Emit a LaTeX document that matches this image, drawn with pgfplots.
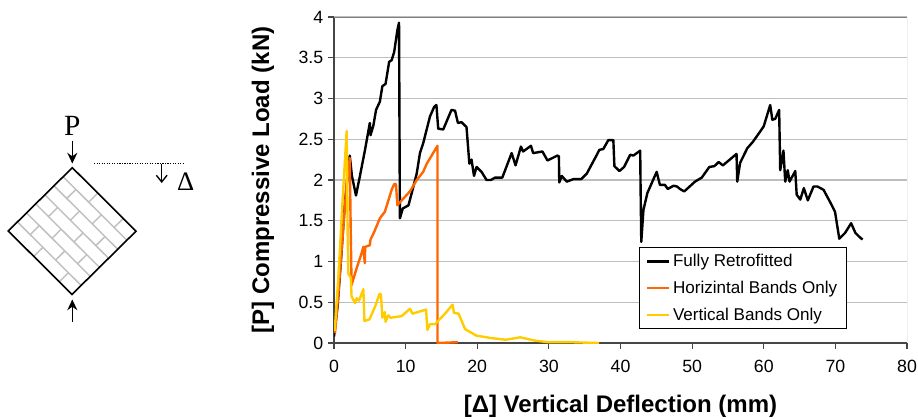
\documentclass[border=0pt]{standalone}
\usepackage{fontspec}
\setmainfont{Liberation Sans}
\newfontfamily\serifdiag{Liberation Serif}
\usepackage{pgfplots}
\pgfplotsset{compat=1.18}
\usetikzlibrary{arrows.meta}

\pgfplotstableread{
x y
0 0.08
0.5 0.45
1.0 1.05
1.5 1.7
2.2 2.3
2.5 2.05
3.07 1.81
3.6 2.04
4.33 2.37
5.0 2.7
5.1 2.55
5.5 2.67
5.87 2.86
6.4 2.96
6.75 3.15
7.2 3.18
7.7 3.45
8.05 3.47
8.4 3.57
8.85 3.84
9.08 3.93
9.2 1.53
9.6 1.65
10.4 1.69
10.85 1.84
11.55 2.08
12.0 2.33
12.45 2.45
13.4 2.78
14.0 2.9
14.3 2.92
14.55 2.63
15.25 2.62
16.4 2.86
16.9 2.85
17.3 2.7
17.8 2.71
18.5 2.65
18.9 2.2
19.2 2.25
19.55 2.05
19.9 2.16
20.6 2.10
21.3 2.0
21.9 2.0
22.5 2.03
23.5 2.03
24.8 2.33
25.35 2.18
26.1 2.41
26.4 2.35
27.5 2.42
27.8 2.33
29.1 2.35
29.8 2.24
31.2 2.3
31.4 2.29
31.45 1.97
31.8 2.05
32.5 1.98
33.4 2.01
34.5 2.01
35.3 2.08
36.7 2.31
37.05 2.37
37.6 2.38
38.3 2.49
39.0 2.49
39.15 2.17
39.85 2.11
40.5 2.16
41.35 2.31
41.8 2.3
42.75 2.36
42.8 1.94
42.9 1.24
43.2 1.63
43.75 1.84
45.05 2.1
45.5 1.94
46.2 1.94
46.6 1.89
47.4 1.93
47.9 1.92
48.3 1.89
48.9 1.86
50.4 1.98
51.35 2.03
52.4 2.16
53.1 2.17
53.7 2.22
54.3 2.18
56.2 2.32
56.3 1.98
56.7 2.21
57.7 2.39
58.5 2.47
59.7 2.62
60.0 2.66
60.9 2.92
61.2 2.74
61.6 2.75
62.15 2.86
62.3 2.12
62.75 2.36
63.0 1.98
63.35 2.12
63.6 1.98
64.4 2.11
64.6 1.82
65.1 1.76
65.6 1.9
66.15 1.75
66.95 1.92
67.5 1.92
68.35 1.88
69.5 1.69
69.95 1.61
70.2 1.47
70.55 1.28
71.35 1.35
72.2 1.47
72.8 1.35
73.5 1.29
73.8 1.27
}\fullyretro

\pgfplotstableread{
x y
0.14 0.12
0.6 0.6
1.2 1.3
1.8 2.0
2.2 2.27
2.3 1.6
2.45 0.71
3.1 0.9
3.85 1.10
4.1 1.18
4.3 0.98
4.35 1.18
5.0 1.2
5.1 1.27
5.6 1.36
6.4 1.53
7.1 1.61
8.05 1.88
8.4 1.95
8.65 1.95
8.85 1.69
9.45 1.75
10.6 1.86
11.55 2.0
12.45 2.1
12.95 2.2
14.45 2.42
14.45 0.0
17.3 0.01
}\horizbands

\pgfplotstableread{
x y
0.1 0.15
0.6 0.8
1.2 1.75
1.77 2.6
1.9 1.4
2.0 0.85
2.35 0.8
2.45 0.57
2.95 0.49
3.15 0.55
3.5 0.52
4.1 0.66
4.25 0.27
4.95 0.29
5.75 0.45
6.35 0.6
6.55 0.6
6.75 0.31
7.1 0.38
7.2 0.26
7.6 0.34
7.9 0.31
9.45 0.33
10.6 0.42
10.95 0.36
12.85 0.41
13.05 0.16
13.4 0.23
14.1 0.23
15.5 0.36
16.55 0.47
16.75 0.37
17.4 0.36
18.3 0.17
19.9 0.09
22 0.06
24 0.04
26 0.07
28 0.03
30 0.01
33 0.01
37 0
}\vertbands

\definecolor{brick}{RGB}{192,192,192}
\definecolor{gridc}{RGB}{190,190,190}
\definecolor{axisc}{RGB}{70,70,70}
\definecolor{orangeb}{RGB}{255,102,0}
\definecolor{yellowb}{RGB}{255,204,0}

\begin{document}
\begin{tikzpicture}[x=0.75pt,y=-0.75pt]
\useasboundingbox (0,0) rectangle (918,418);

% specimen sketch
\begin{scope}[shift={(72.3,167.7)},x={(47.8pt,-47.6pt)},y={(-6.86pt,-6.78pt)}]
  \foreach \k in {1,...,6} \draw[brick,line width=1.1pt] (0,\k) -- (1,\k);
  \foreach \k in {0,2,4,6} {
    \draw[brick,line width=1.1pt] (0.4,\k) -- (0.4,\k+1);
    \draw[brick,line width=1.1pt] (0.8,\k) -- (0.8,\k+1);
  }
  \foreach \k in {1,3,5} {
    \draw[brick,line width=1.1pt] (0.2,\k) -- (0.2,\k+1);
    \draw[brick,line width=1.1pt] (0.6,\k) -- (0.6,\k+1);
  }
  \draw[black,line width=1.2pt,line join=miter] (0,0) -- (1,0) -- (1,7) -- (0,7) -- cycle;
\end{scope}
\draw[-{Stealth[length=8pt,width=7.5pt]},line width=1.1pt] (72.3,140.5) -- (72.3,163.5);
\draw[-{Stealth[length=8pt,width=7.5pt]},line width=1.1pt] (72.3,322) -- (72.3,299.5);
\draw[densely dotted,line width=0.9pt] (94,163.5) -- (183,163.5);
\draw[-{Straight Barb[length=5pt,width=8pt]},line width=1pt] (161.7,163.5) -- (161.7,183);
\node[font=\serifdiag\fontsize{22pt}{22pt}\selectfont] at (72.3,126) {P};
\node[font=\serifdiag\fontsize{20pt}{20pt}\selectfont] at (185.7,182) {Δ};

\begin{axis}[
  at={(250.5pt,-257.25pt)}, anchor=south west,
  scale only axis,
  width=429.75pt, height=244.5pt,
  xmin=0, xmax=80, ymin=0, ymax=4,
  xtick distance=10, ytick distance=0.5,
  axis lines=left,
  axis line style={-,axisc,line width=0.9pt},
  tick align=outside,
  major tick length=4.5pt,
  tick style={axisc,line width=0.8pt},
  ymajorgrids,
  major grid style={gridc,line width=0.8pt},
  /pgf/number format/assume math mode=true,
  tick label style={font=\fontsize{13.3pt}{13.3pt}\selectfont},
  xticklabel style={yshift=-5pt},
  xlabel={\textbf{[Δ] Vertical Deflection (mm)}},
  ylabel={\textbf{[P] Compressive Load (kN)}},
  every axis x label/.style={at={(axis description cs:0.5,-0.193)},anchor=center,font=\fontsize{18pt}{18pt}\selectfont},
  every axis y label/.style={at={(axis description cs:-0.124,0.5)},anchor=center,rotate=90,font=\fontsize{18pt}{18pt}\selectfont},
  legend cell align=left,
  legend style={
    at={(axis description cs:0.532,0.294)}, anchor=north west,
    draw=black, line width=0.7pt, fill=white,
    font=\fontsize{12.8pt}{12.8pt}\selectfont,
    inner xsep=5pt, inner ysep=3pt,
    row sep=5.25pt,
  },
  legend image code/.code={
    \path (0pt,0pt) -- (16.5pt,0pt);
    \draw[#1,line width=1.5pt] (4.5pt,0pt) -- (15pt,0pt);
  },
]
\draw[gray,line width=0.6pt] (rel axis cs:1,0) -- (rel axis cs:1,1) -- (rel axis cs:0,1);
\addplot[black,line width=1.8pt,line join=round] table[x=x,y=y] {\fullyretro};
\addlegendentry{Fully Retrofitted}
\addplot[orangeb,line width=1.8pt,line join=round] table[x=x,y=y] {\horizbands};
\addlegendentry{Horizintal Bands Only}
\addplot[yellowb,line width=1.8pt,line join=round] table[x=x,y=y] {\vertbands};
\addlegendentry{Vertical Bands Only}
\end{axis}
\end{tikzpicture}
\end{document}
